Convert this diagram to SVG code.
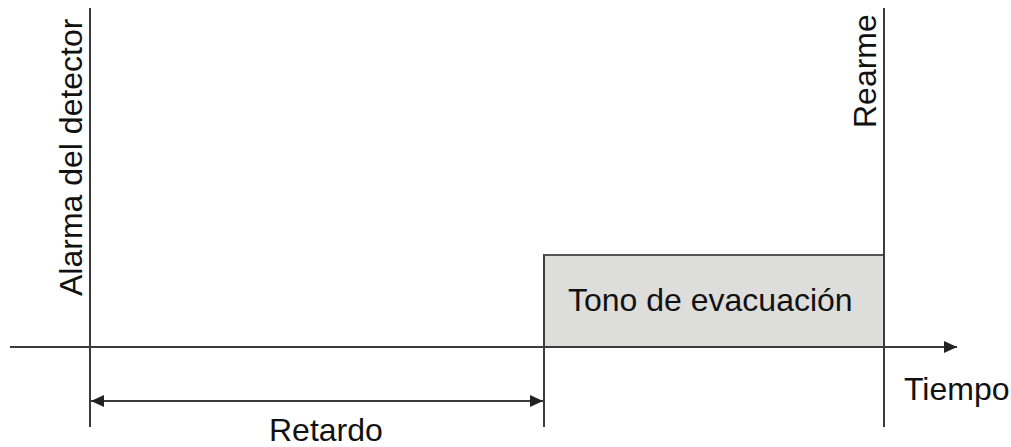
<svg xmlns="http://www.w3.org/2000/svg" width="1011" height="447" viewBox="0 0 1011 447">
<style>
.ln{stroke:#3c3c3c;stroke-width:2;fill:none}
.t{font-family:"Liberation Sans",Arial,sans-serif;font-size:32px;fill:#111}
</style>
<defs>
<marker id="ah" markerWidth="13" markerHeight="12" refX="13" refY="6" orient="auto-start-reverse" markerUnits="userSpaceOnUse">
<path d="M0,0 L13,6 L0,12 Z" fill="#222"/>
</marker>
</defs>
<rect width="1011" height="447" fill="#fff"/>
<g id="tono">
<rect x="544" y="255" width="340" height="92" fill="#dddddb" stroke="#555" stroke-width="2"/>
<text class="t" x="568" y="311">Tono de evacuación</text>
</g>
<g id="connectors">
<line class="ln" x1="90" y1="8" x2="90" y2="427"/>
<line class="ln" x1="884" y1="8" x2="884" y2="427"/>
<line class="ln" x1="544" y1="255" x2="544" y2="427"/>
<line class="ln" x1="10" y1="347" x2="957" y2="347" marker-end="url(#ah)"/>
<line class="ln" x1="91" y1="401" x2="543" y2="401" marker-start="url(#ah)" marker-end="url(#ah)"/>
</g>
<g id="alarma"><text class="t" transform="translate(82,296) rotate(-90)">Alarma del detector</text></g>
<g id="rearme"><text class="t" transform="translate(876,128) rotate(-90)">Rearme</text></g>
<g id="tiempo"><text class="t" x="904" y="400">Tiempo</text></g>
<g id="retardo"><text class="t" x="269" y="441">Retardo</text></g>
</svg>
